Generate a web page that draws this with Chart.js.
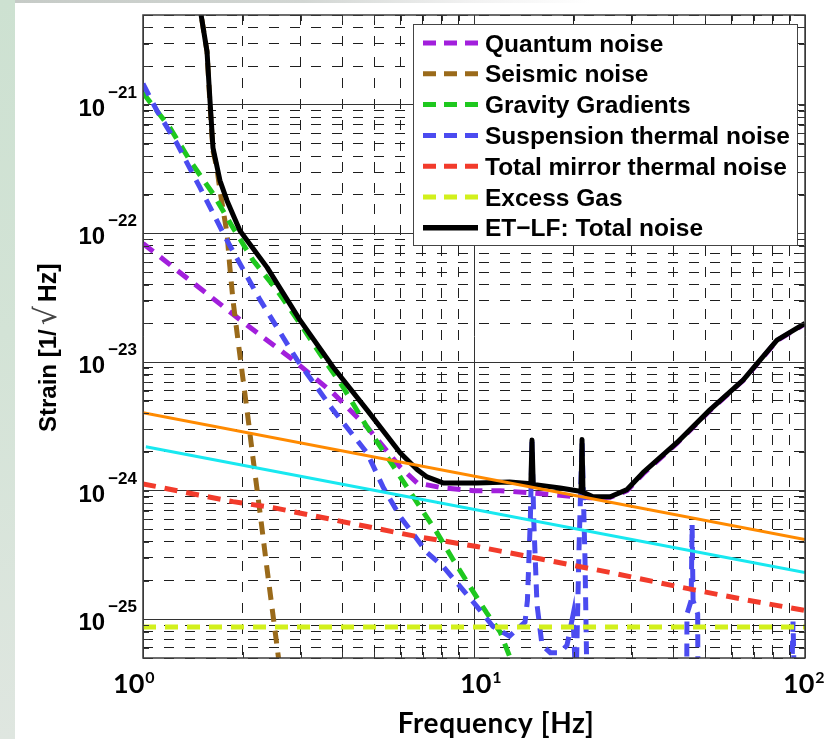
<!DOCTYPE html>
<html><head><meta charset="utf-8">
<script src="https://cdn.jsdelivr.net/npm/chart.js@4.4.1/dist/chart.umd.min.js"></script>
<style>
html,body{margin:0;padding:0;background:#fff;}
#wrap{position:relative;width:838px;height:739px;overflow:hidden;background:#fff;}
#lstrip{position:absolute;left:0;top:0;width:15px;height:739px;background:linear-gradient(to bottom,#cde1d1 0%,#d3e3d6 45%,#dfe6e0 100%);}
#tstrip{position:absolute;left:15px;top:0;width:823px;height:3px;background:linear-gradient(to right,#c6cbc7 0%,#d2d6d3 35%,#f1f1f1 55%,#ffffff 70%);}
canvas{position:absolute;left:0;top:0;}
</style></head><body>
<div id="wrap"><div id="lstrip"></div><div id="tstrip"></div><canvas id="c" width="838" height="739"></canvas></div>
<script>
// ---------- data ----------
const xTickExponents = [0, 1, 2];
const yTickExponents = [-25, -24, -23, -22, -21];
const xRange = [1, 100];
const yRange = [5e-26, 5e-21];
const legendLabels = ['Quantum noise', 'Seismic noise', 'Gravity Gradients', 'Suspension thermal noise',
  'Total mirror thermal noise', 'Excess Gas', 'ET\u2212LF: Total noise'];

const quantumF = [1, 2.06, 2.84, 3.75, 4.75, 5.98, 6.73, 8.06, 10, 12, 15, 18.2, 22.4, 25.8, 29, 32.4, 41, 51.6, 65, 82.3, 100];
const quantumNoise = [8.36e-23, 1.94e-23, 1.04e-23, 5.75e-24, 3.13e-24, 1.53e-24, 1.15e-24, 1.05e-24, 1.0e-24, 1.0e-24, 9.6e-25, 9.2e-25, 8.8e-25, 8.9e-25, 1.0e-24, 1.35e-24, 2.33e-24, 4.2e-24, 7.2e-24, 1.47e-23, 1.98e-23];

const seismicF = [1.45, 1.50, 1.561, 1.594, 1.627, 1.673, 1.708, 1.794, 1.83, 1.87, 1.936, 2.005, 2.076, 2.149, 2.257, 2.369, 2.453, 2.558, 2.648];
const seismicNoise = [1.5e-20, 4.9e-21, 2.6e-21, 1.0e-21, 4.4e-22, 3.2e-22, 2.16e-22, 1.0e-22, 5.45e-23, 3.03e-23, 1.48e-23, 7.38e-24, 3.68e-24, 1.8e-24, 6.75e-25, 2.48e-25, 1.24e-25, 5.36e-26, 2.6e-26];

const gravityF = [1.0, 1.028, 1.207, 1.387, 1.627, 1.87, 2.15, 2.54, 2.98, 3.42, 4.02, 4.75, 5.46, 6.41, 7.73, 8.64, 9.72, 10.9, 12.0, 12.8, 13.5];
const gravityNoise = [1.25e-21, 1.13e-21, 6.63e-22, 3.68e-22, 2.04e-22, 1.11e-22, 6.18e-23, 3.62e-23, 2.0e-23, 1.17e-23, 6.4e-24, 3.13e-24, 1.84e-24, 9.8e-25, 4.72e-25, 2.92e-25, 1.8e-25, 1.13e-25, 7.94e-26, 5.17e-26, 3.5e-26];

const suspensionF = [1.0, 1.102, 1.267, 1.486, 1.794, 2.26, 2.92, 3.75, 4.75, 5.31, 5.98, 7.21, 8.06, 9.07, 10.2, 11.4, 12.8, 14.26, 14.5, 14.8, 14.97, 15.15, 15.5, 16.05, 17.0, 18.2, 19.1, 19.9, 20.33, 20.76, 21.2, 21.64, 21.95, 25, 35, 43.9, 44.0, 45.3, 45.6, 45.9, 47.4, 47.5, 60, 88, 91.5, 92.0, 92.5, 95, 100];
const suspensionNoise = [1.46e-21, 9.0e-22, 4.99e-22, 2.28e-22, 8.83e-23, 3.03e-23, 1.04e-23, 4.25e-24, 1.97e-24, 1.07e-24, 6.3e-25, 3.31e-25, 2.58e-25, 1.8e-25, 1.26e-25, 8.8e-26, 7.4e-26, 9.5e-26, 1.4e-25, 6e-25, 2.4e-24, 6e-25, 1.3e-25, 6.3e-26, 5.5e-26, 5.5e-26, 6.3e-26, 1.07e-25, 3e-26, 3.5e-25, 2.4e-24, 3e-25, 3e-26, 2e-26, 2e-26, 2.5e-26, 1.1e-25, 1.4e-25, 5.4e-25, 1.4e-25, 1.1e-25, 2.5e-26, 2e-26, 2.5e-26, 5e-26, 9.6e-26, 5e-26, 2.5e-26, 2.5e-26];

const mirrorF = [1, 1.36, 1.87, 2.47, 3.36, 4.75, 6.73, 10.2, 16.2, 25.8, 41, 65, 100];
const mirrorNoise = [1.13e-24, 9.64e-25, 8.22e-25, 7.38e-25, 6.3e-25, 5.26e-25, 4.4e-25, 3.68e-25, 2.92e-25, 2.31e-25, 1.8e-25, 1.43e-25, 1.17e-25];

const gasF = [1, 10, 100];
const gasNoise = [8.7e-26, 8.7e-26, 8.7e-26];

const totalF = [1.45, 1.50, 1.561, 1.594, 1.627, 1.708, 1.794, 1.963, 2.37, 2.98, 3.75, 4.75, 5.98, 6.73, 7.21, 8.06, 10.2, 12.8, 14.85, 14.97, 15.1, 18.2, 20.9, 21.05, 21.2, 21.35, 22.9, 25.8, 29.0, 32.4, 41.0, 51.6, 65.0, 82.3, 100];
const totalNoise = [1.5e-20, 4.9e-21, 2.6e-21, 1.07e-21, 4.64e-22, 2.58e-22, 1.80e-22, 1.05e-22, 5.45e-23, 2.12e-23, 9.15e-24, 4.25e-24, 1.97e-24, 1.46e-24, 1.28e-24, 1.15e-24, 1.15e-24, 1.17e-24, 1.13e-24, 2.48e-24, 1.12e-24, 1.05e-24, 9.9e-25, 9.8e-25, 2.5e-24, 9.7e-25, 8.97e-25, 8.97e-25, 1.02e-24, 1.38e-24, 2.36e-24, 4.25e-24, 7.25e-24, 1.48e-23, 2.0e-23];

const orangeLineF = [1, 100];
const orangeLine = [4.03e-24, 4.17e-25];
const cyanLineF = [1.02, 100];
const cyanLine = [2.2e-24, 2.31e-25];

// ---------- helpers ----------
const pts = (f, v) => f.map((x, i) => ({ x: x, y: v[i] }));
function logGridValues(min, max) {
  const out = [];
  for (let e = Math.floor(Math.log10(min)); e <= Math.ceil(Math.log10(max)); e++) {
    for (let m = 1; m < 10; m++) {
      const v = m * Math.pow(10, e);
      if (v >= min * 0.999 && v <= max * 1.001) out.push(v);
    }
  }
  return out;
}
const isDecade = v => Math.abs(Math.log10(v) - Math.round(Math.log10(v))) < 1e-6;
const gridColor = c => (c.tick && isDecade(c.tick.value)) ? '#333333' : '#1e1e1e';
const gridDash = c => (c.tick && isDecade(c.tick.value)) ? [] : [10, 11];

const DASH = [13, 9];
const base = { pointRadius: 0, tension: 0, fill: false, borderCapStyle: 'butt' };
const datasets = [
  Object.assign({ label: legendLabels[0], data: pts(quantumF, quantumNoise), borderColor: '#a21fdc', borderWidth: 5, borderDash: DASH, order: 8 }, base),
  Object.assign({ label: legendLabels[1], data: pts(seismicF, seismicNoise), borderColor: '#9a6a1a', borderWidth: 5, borderDash: DASH, order: 7 }, base),
  Object.assign({ label: legendLabels[2], data: pts(gravityF, gravityNoise), borderColor: '#1ec81e', borderWidth: 5, borderDash: DASH, order: 6 }, base),
  Object.assign({ label: legendLabels[3], data: pts(suspensionF, suspensionNoise), borderColor: '#4b4bf0', borderWidth: 5, borderDash: DASH, order: 5 }, base),
  Object.assign({ label: legendLabels[4], data: pts(mirrorF, mirrorNoise), borderColor: '#f23b2b', borderWidth: 5, borderDash: DASH, order: 4 }, base),
  Object.assign({ label: legendLabels[5], data: pts(gasF, gasNoise), borderColor: '#d2f01c', borderWidth: 5, borderDash: DASH, order: 3 }, base),
  Object.assign({ label: legendLabels[6], data: pts(totalF, totalNoise), borderColor: '#000000', borderWidth: 5, order: 2, borderJoinStyle: 'round' }, base),
  Object.assign({ label: '', data: pts(cyanLineF, cyanLine), borderColor: '#18e8f0', borderWidth: 3, order: 1 }, base),
  Object.assign({ label: '', data: pts(orangeLineF, orangeLine), borderColor: '#ff8a00', borderWidth: 3, order: 0 }, base)
];

const AX_FONT = '"Liberation Sans", Arial, Helvetica, sans-serif';
const PPT_FONT = 'Lato, "Open Sans", sans-serif';
const xLabelDx = [-30, -14, -22];

const decor = {
  id: 'decor',
  afterDatasetsDraw(chart) {
    const ctx = chart.ctx, a = chart.chartArea, xs = chart.scales.x, ys = chart.scales.y;
    ctx.save();
    ctx.setLineDash([]);
    // inner tick marks
    ctx.strokeStyle = '#333'; ctx.lineWidth = 1;
    xs.ticks.forEach(t => {
      const px = Math.round(xs.getPixelForValue(t.value)) + 0.5;
      ctx.beginPath(); ctx.moveTo(px, a.top); ctx.lineTo(px, a.top + 6);
      ctx.moveTo(px, a.bottom); ctx.lineTo(px, a.bottom - 6); ctx.stroke();
    });
    ys.ticks.forEach(t => {
      const py = Math.round(ys.getPixelForValue(t.value)) + 0.5;
      ctx.beginPath(); ctx.moveTo(a.left, py); ctx.lineTo(a.left + 6, py);
      ctx.moveTo(a.right, py); ctx.lineTo(a.right - 6, py); ctx.stroke();
    });
    // axes box
    ctx.lineWidth = 1.5; ctx.strokeStyle = '#3c3c3c';
    ctx.strokeRect(a.left, a.top, a.right - a.left, a.bottom - a.top);

    // legend
    const lw = 384, lh = 221, lx = a.right - 8 - lw, ly = a.top + 9;
    ctx.fillStyle = '#fff'; ctx.fillRect(lx, ly, lw, lh);
    ctx.lineWidth = 1; ctx.strokeStyle = '#444';
    ctx.strokeRect(lx + 0.5, ly + 0.5, lw, lh);
    chart.data.datasets.filter(d => d.label).forEach((d, i) => {
      const yc = ly + 19 + i * 30.8;
      ctx.strokeStyle = d.borderColor;
      ctx.lineWidth = d.borderDash ? 5 : 5.5;
      ctx.setLineDash(d.borderDash ? [13, 8] : []);
      ctx.beginPath(); ctx.moveTo(lx + 10, yc); ctx.lineTo(lx + 65, yc); ctx.stroke();
      ctx.setLineDash([]);
      ctx.fillStyle = '#000';
      ctx.font = 'bold 24.5px ' + AX_FONT;
      ctx.textAlign = 'left'; ctx.textBaseline = 'alphabetic';
      ctx.fillText(d.label, lx + 72, yc + 8.5);
    });

    // y tick labels 10^e
    ctx.fillStyle = '#000'; ctx.textBaseline = 'alphabetic'; ctx.textAlign = 'right';
    yTickExponents.forEach(e => {
      const py = ys.getPixelForValue(Math.pow(10, e));
      const ex = '\u2212' + Math.abs(e);
      ctx.font = 'bold 17px ' + AX_FONT;
      const ew = ctx.measureText(ex).width;
      ctx.fillText(ex, a.left - 6, py - 7);
      ctx.font = 'bold 24px ' + AX_FONT;
      ctx.fillText('10', a.left - 6 - ew - 3, py + 11);
    });

    // x tick labels 10^e
    ctx.textAlign = 'left';
    xTickExponents.forEach((e, i) => {
      const px = xs.getPixelForValue(Math.pow(10, e)) + xLabelDx[i];
      ctx.font = 'bold 27px ' + PPT_FONT;
      const w = ctx.measureText('10').width;
      ctx.fillText('10', px, 693);
      ctx.font = 'bold 16px ' + PPT_FONT;
      ctx.fillText(String(e), px + w + 1, 683);
    });

    // x title
    ctx.font = 'bold 28px ' + PPT_FONT;
    try { ctx.letterSpacing = '0.6px'; } catch (err) {}
    ctx.textAlign = 'center';
    ctx.fillText('Frequency [Hz]', 496, 733);
    try { ctx.letterSpacing = '0px'; } catch (err) {}

    // y title (rotated)
    ctx.save();
    ctx.translate(56, 432);
    ctx.rotate(-Math.PI / 2);
    ctx.textAlign = 'left';
    let pos = 0;
    ctx.font = 'bold 24px ' + AX_FONT;
    ctx.fillText('Strain [1/', pos, 0);
    pos += ctx.measureText('Strain [1/').width + 4;
    ctx.font = 'normal 30px "DejaVu Sans", sans-serif';
    ctx.fillStyle = '#444';
    ctx.fillText('\u221A', pos, 0);
    pos += ctx.measureText('\u221A').width + 4;
    ctx.fillStyle = '#000';
    ctx.font = 'bold 25px ' + AX_FONT;
    ctx.fillText('Hz]', pos, 0);
    ctx.restore();

    ctx.restore();
  }
};

const axisCommon = {
  type: 'logarithmic',
  ticks: { display: false, autoSkip: false, callback: () => '' },
  grid: { color: gridColor, lineWidth: 1, drawTicks: false },
  border: { display: false, dash: gridDash },
  title: { display: false }
};

new Chart(document.getElementById('c'), {
  type: 'line',
  data: { datasets: datasets },
  options: {
    responsive: false, animation: false, devicePixelRatio: 1, events: [],
    layout: { padding: { left: 0, right: 33, top: 15, bottom: 0 } },
    plugins: { legend: { display: false }, tooltip: { enabled: false } },
    scales: {
      x: Object.assign({}, axisCommon, {
        min: xRange[0], max: xRange[1],
        afterBuildTicks: s => { s.ticks = logGridValues(xRange[0], xRange[1]).map(v => ({ value: v })); },
        afterFit: s => { s.height = 81; }
      }),
      y: Object.assign({}, axisCommon, {
        min: yRange[0], max: yRange[1],
        afterBuildTicks: s => { s.ticks = logGridValues(yRange[0], yRange[1]).map(v => ({ value: v })); },
        afterFit: s => { s.width = 143; }
      })
    }
  },
  plugins: [decor]
});
</script></body></html>
